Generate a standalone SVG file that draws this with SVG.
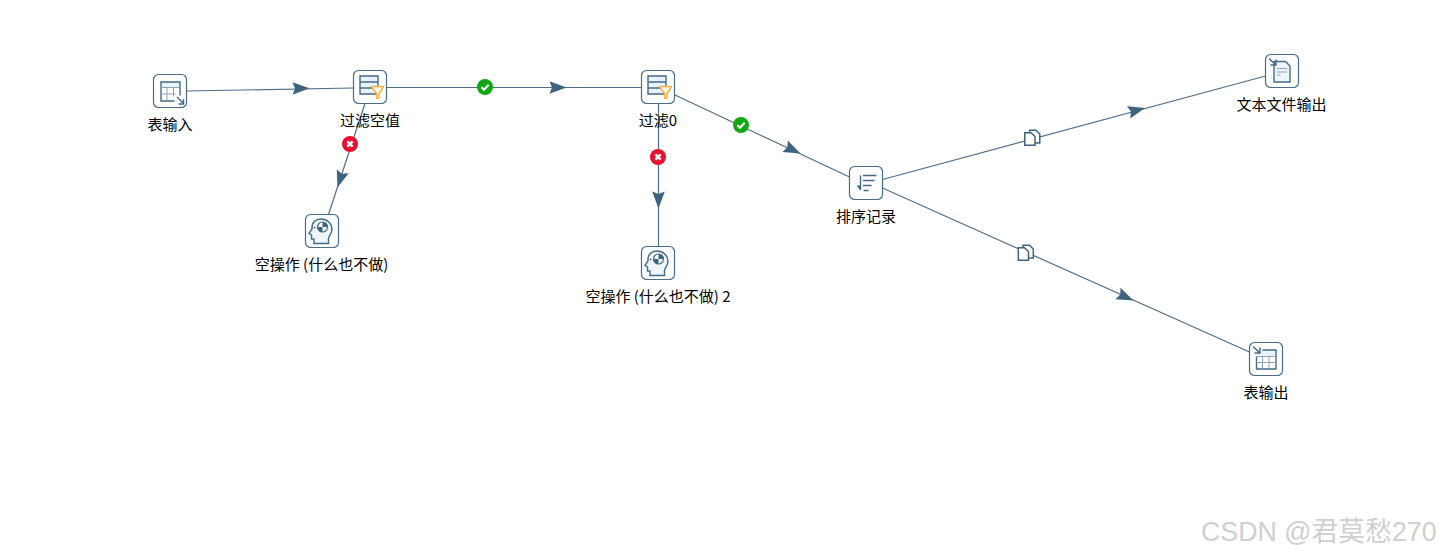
<svg xmlns="http://www.w3.org/2000/svg" xmlns:xlink="http://www.w3.org/1999/xlink" width="1439" height="558" viewBox="0 0 1439 558">
<style>
text{font-family:"Noto Sans CJK SC","Noto Sans",sans-serif;font-size:15px;fill:#000;text-anchor:middle}
.box{fill:#fff;stroke:#4a6c89;stroke-width:1.2}
.edge{fill:none;stroke:#4f6f89;stroke-width:1.2}
.ic{fill:none;stroke:#456a86;stroke-width:1.4}
.thin{fill:none;stroke:#8aa3b7;stroke-width:1}
.lite{fill:#e9f3fb;stroke:none}
.fun{fill:#fff8ea;stroke:#fbae3c;stroke-width:1.400;stroke-linejoin:round}
.wm{font-family:"Liberation Sans","Noto Sans CJK SC",sans-serif;font-size:26.800px;fill:#cfcfcf;text-anchor:start}
</style>
<defs>
<path id="arrow" d="M0 0L-17 -6.300L-14.500 0L-17 6.300Z" fill="#3f6480"/>
<g id="ok"><circle r="8" fill="#10a810"/><path d="M-3.600 0.200L-1 2.800L3.700 -2.200" fill="none" stroke="#fff" stroke-width="2"/></g>
<g id="err"><circle r="8" fill="#e8102f"/><path d="M-2.600 -2.600L2.600 2.600M2.600 -2.600L-2.600 2.600" fill="none" stroke="#fff" stroke-width="2.500"/></g>
<g id="copy"><path d="M5.500 0.800H12L15.800 4.500V13.500H5.500Z" fill="#fff" stroke="#3f6480" stroke-width="1.500"/><path d="M0.800 3.200H7L11 7V15.800H0.800Z" fill="#fff" stroke="#3f6480" stroke-width="1.500"/></g>
<g id="filterIcon">
<rect x="6.500" y="5.500" width="18" height="18" class="lite"/>
<path class="ic" d="M6.500 5.500H24.500V23.500H6.500ZM6.500 11.500H24.500M6.500 17.500H24.500"/>
<path class="fun" d="M17.800 16H30L25.500 23V27.800H23V23Z"/>
</g>
<g id="brain">
<path d="M8.500 29V24.500H6V20.500L3.500 19L6.500 14.500C6 8 10 4.500 15.500 4.500C21.500 4.500 26.500 9 26.500 14.500C26.500 19 24 21 23 23.500V29Z" fill="#eef6fc" stroke="#456a86" stroke-width="1.400"/>
<circle cx="17" cy="12.500" r="5" fill="#fff" stroke="#456a86" stroke-width="1.200"/>
<path d="M17 12.500V7.500A5 5 0 0 1 22 12.500ZM17 12.500V17.500A5 5 0 0 1 12 12.500Z" fill="#3f6480"/>
<circle cx="9" cy="13" r="0.900" fill="#4a6c89"/>
</g>
</defs>

<g id="connectors">
<path class="edge" d="M186.500 91L353.500 88"/>
<use xlink:href="#arrow" href="#arrow" transform="translate(309.500 88.200) rotate(-1)"/>
<path class="edge" d="M365 103.500L328.500 214.500"/>
<use xlink:href="#arrow" href="#arrow" transform="translate(337.500 187.500) rotate(108)"/>
<use xlink:href="#err" href="#err" transform="translate(350 144)"/>
<path class="edge" d="M386.500 87.500H641.500"/>
<use xlink:href="#arrow" href="#arrow" transform="translate(566.500 87.500)"/>
<use xlink:href="#ok" href="#ok" transform="translate(485 87)"/>
<path class="edge" d="M658.500 103.500V246.500"/>
<use xlink:href="#arrow" href="#arrow" transform="translate(658.500 208.500) rotate(90)"/>
<use xlink:href="#err" href="#err" transform="translate(658 157)"/>
<path class="edge" d="M675 95L849.500 177"/>
<use xlink:href="#arrow" href="#arrow" transform="translate(800.500 153.500) rotate(25)"/>
<use xlink:href="#ok" href="#ok" transform="translate(741 125)"/>
<path class="edge" d="M882.500 179.500L1265.500 76"/>
<use xlink:href="#arrow" href="#arrow" transform="translate(1145 108) rotate(-15)"/>
<use xlink:href="#copy" href="#copy" transform="translate(1024 129.500)"/>
<path class="edge" d="M882.500 188L1249.500 352"/>
<use xlink:href="#arrow" href="#arrow" transform="translate(1133.500 300.500) rotate(24)"/>
<use xlink:href="#copy" href="#copy" transform="translate(1017.500 244.500)"/>
</g>

<g id="node-table-input" transform="translate(153.500 74.500)">
<rect class="box" width="33" height="33" rx="5"/>
<rect class="lite" x="7.500" y="7.500" width="19" height="5"/>
<path class="ic" d="M26.500 21V7.500H7.500V26.500H21"/>
<path class="thin" d="M7.500 13H26.500M7.500 19.500H22M13.500 13V26M20 13V22"/>
<path class="ic" d="M23.500 22.500L30 29M30 24.500V29.500H25"/>
<text x="16.500" y="55.500">表输入</text>
</g>

<g id="node-filter-null" transform="translate(353.500 70.500)">
<rect class="box" width="33" height="33" rx="5"/>
<use xlink:href="#filterIcon" href="#filterIcon"/>
<text x="16.500" y="55">过滤空值</text>
</g>

<g id="node-dummy-1" transform="translate(305.500 214.500)">
<rect class="box" width="33" height="33" rx="5"/>
<use xlink:href="#brain" href="#brain"/>
<text x="16" y="55.500">空操作 (什么也不做)</text>
</g>

<g id="node-filter-0" transform="translate(641.500 70.500)">
<rect class="box" width="33" height="33" rx="5"/>
<use xlink:href="#filterIcon" href="#filterIcon"/>
<text x="16.500" y="55">过滤0</text>
</g>

<g id="node-dummy-2" transform="translate(641.500 246.500)">
<rect class="box" width="33" height="33" rx="5"/>
<use xlink:href="#brain" href="#brain"/>
<text x="16.500" y="55.500">空操作 (什么也不做) 2</text>
</g>

<g id="node-sort" transform="translate(849.500 166.500)">
<rect class="box" width="33" height="33" rx="5"/>
<path class="ic" d="M11 9V23.500M13.500 9H27M13.500 14H25M13.500 19H22M14 24H19"/>
<path d="M7 19H11V24Z" fill="#3f6480"/>
<text x="16.500" y="55.500">排序记录</text>
</g>

<g id="node-text-output" transform="translate(1265.500 54.500)">
<rect class="box" width="33" height="33" rx="5"/>
<path d="M8.500 7H20L24.500 11.500V27.500H8.500Z" fill="#eef6fc" stroke="#456a86" stroke-width="1.400"/>
<path class="thin" d="M11.500 14H21.500M11.500 17.500H21.500M11.500 20.500H15"/>
<path class="ic" d="M3.500 4L10 10M10.500 5V10.500H5"/>
<text x="16" y="55.500">文本文件输出</text>
</g>

<g id="node-table-output" transform="translate(1249.500 342.500)">
<rect class="box" width="33" height="33" rx="5"/>
<rect class="lite" x="7" y="7" width="19" height="7"/>
<path class="ic" d="M13 7.500H26.500V26.500H7V14"/>
<path class="thin" d="M7 14H26.500M7 20H26.500M13 14V26M19.500 14V26"/>
<path class="ic" d="M3.500 4L10 10M10.500 5V10.500H5"/>
<text x="16.500" y="55.500">表输出</text>
</g>

<text class="wm" x="1201" y="541">CSDN @君莫愁270</text>
</svg>
